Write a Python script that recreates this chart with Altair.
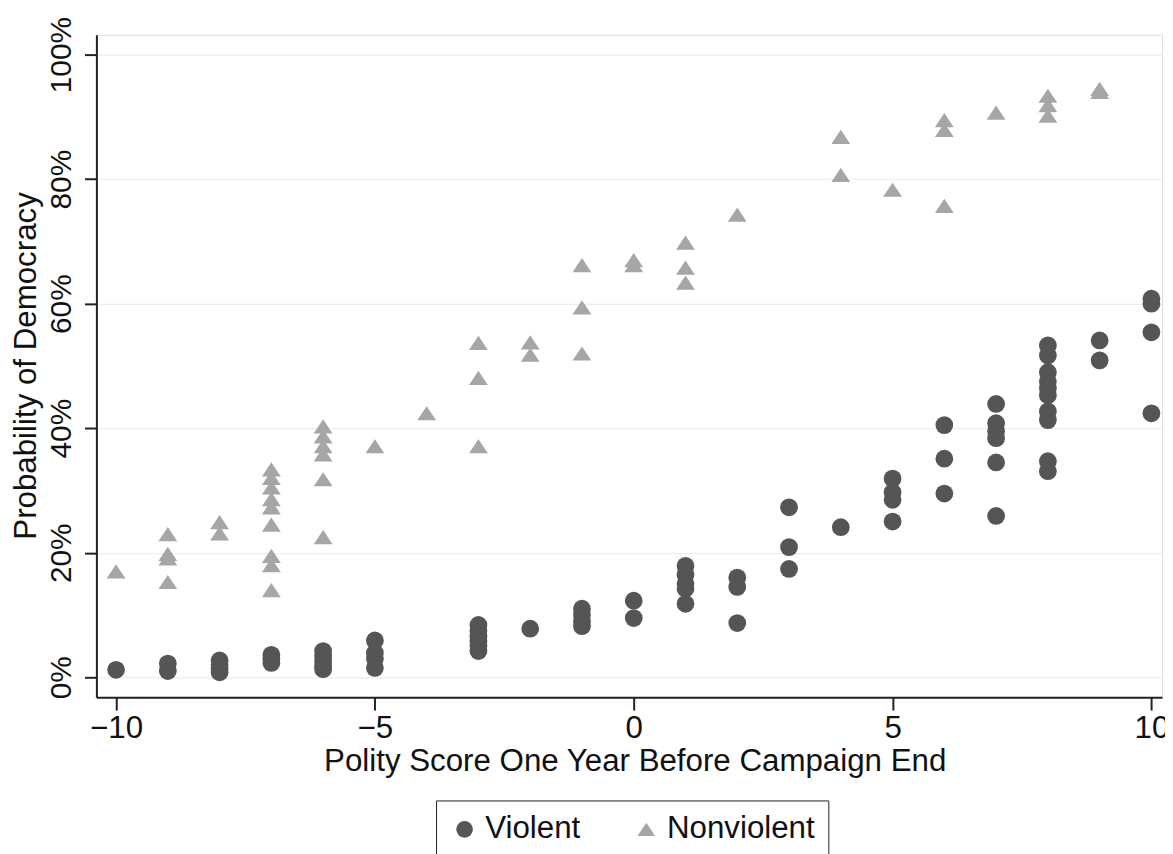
import altair as alt
import pandas as pd

# ---- data ----
violent_x = [-10,
             -9, -9,
             -8, -8, -8, -8,
             -7, -7, -7,
             -6, -6, -6, -6, -6,
             -5, -5, -5, -5,
             -3, -3, -3, -3, -3, -3,
             -2,
             -1, -1, -1, -1,
             0, 0,
             1, 1, 1, 1, 1,
             2, 2, 2,
             3, 3, 3,
             4,
             5, 5, 5, 5,
             6, 6, 6,
             7, 7, 7, 7, 7, 7,
             8, 8, 8, 8, 8, 8, 8, 8, 8, 8,
             9, 9,
             10, 10, 10, 10]
violent_y = [1.2,
             2.2, 1.0,
             2.7, 2.0, 1.4, 0.8,
             3.6, 3.0, 2.3,
             4.2, 3.4, 2.6, 1.9, 1.3,
             5.9, 3.9, 3.0, 1.5,
             8.4, 7.5, 6.6, 5.8, 5.0, 4.2,
             7.8,
             11.0, 10.0, 9.0, 8.2,
             12.3, 9.5,
             17.9, 16.5, 15.0, 14.2, 11.8,
             16.0, 14.5, 8.7,
             27.3, 20.9, 17.4,
             24.1,
             31.9, 29.7, 28.5, 25.0,
             40.5, 35.1, 29.5,
             43.9, 40.8, 39.5, 38.4, 34.5, 25.9,
             53.3, 51.7, 49.0, 47.5, 46.4, 45.3, 42.7, 41.3, 34.7, 33.1,
             54.1, 50.9,
             60.8, 60.0, 55.4, 42.4]

nonviolent_x = [-10,
                -9, -9, -9, -9,
                -8, -8,
                -7, -7, -7, -7, -7, -7, -7, -7, -7,
                -6, -6, -6, -6, -6, -6,
                -5,
                -4,
                -3, -3, -3,
                -2, -2,
                -1, -1, -1,
                0, 0,
                1, 1, 1,
                2,
                4, 4,
                5,
                6, 6, 6,
                7,
                8, 8, 8,
                9, 9]
nonviolent_y = [17.0,
                23.0, 19.8, 19.1, 15.3,
                24.9, 23.1,
                33.4, 32.0, 30.5, 28.6, 27.3, 24.5, 19.5, 18.0, 14.0,
                40.3, 38.7, 37.1, 35.8, 31.8, 22.5,
                37.1,
                42.4,
                53.7, 48.1, 37.1,
                53.8, 51.8,
                66.2, 59.4, 52.0,
                67.0, 66.2,
                69.8, 65.8, 63.4,
                74.3,
                86.8, 80.7,
                78.3,
                89.5, 87.9, 75.7,
                90.7,
                93.4, 91.9, 90.2,
                94.5, 94.0]

groups = ["Violent", "Nonviolent"]
group_colors = ["#555555", "#a6a6a6"]
x_ticks = [-10, -5, 0, 5, 10]
y_ticks = [0, 20, 40, 60, 80, 100]

df = pd.DataFrame({
    "polity": violent_x + nonviolent_x,
    "prob": violent_y + nonviolent_y,
    "type": [groups[0]] * len(violent_x) + [groups[1]] * len(nonviolent_x),
})

TRI = "M0,-0.8L1.06,0.8L-1.06,0.8Z"
FONT = "Liberation Sans"

legend = alt.Legend(
    title=None, orient="none", legendX=342, legendY=771, direction="horizontal",
    strokeColor="#222222", padding=13, labelFontSize=31.5, labelFont=FONT,
    labelColor="#111111", symbolSize=280, labelOffset=5, columnPadding=50,
    symbolOpacity=1, cornerRadius=0, fillColor="white",
)

chart = alt.Chart(df).mark_point(filled=True, opacity=1, size=320).encode(
    x=alt.X(
        "polity:Q",
        scale=alt.Scale(domain=[-10.38, 10.205], nice=False, zero=False),
        axis=alt.Axis(
            values=x_ticks, title="Polity Score One Year Before Campaign End",
            grid=False, tickSize=13, tickWidth=2, tickColor="#222222",
            domainColor="#222222", domainWidth=2,
            labelPadding=28, labelBaseline="alphabetic", labelFontSize=31.5,
            labelFont=FONT, labelColor="#111111",
            titleFontSize=31.5, titleFont=FONT, titleFontWeight="normal",
            titleColor="#111111", titleBaseline="alphabetic", titleY=74, titleX=542,
            titleAlign="center",
        ),
    ),
    y=alt.Y(
        "prob:Q",
        scale=alt.Scale(domain=[-3.2, 103.2], nice=False, zero=False),
        axis=alt.Axis(
            values=y_ticks, labelExpr="datum.value + '%'",
            grid=True, gridColor="#e6eef1", gridWidth=1.2,
            tickSize=12, tickWidth=2, tickColor="#222222",
            domainColor="#222222", domainWidth=2,
            labelAngle=270, labelAlign="center", labelBaseline="alphabetic",
            labelPadding=14, labelFontSize=30, labelFont=FONT, labelColor="#111111",
            title="Probability of Democracy", titleFontSize=31.5, titleFont=FONT,
            titleFontWeight="normal", titleColor="#111111", titleAngle=270,
            titleBaseline="alphabetic", titleAlign="center", titleX=-61, titleY=333,
        ),
    ),
    color=alt.Color("type:N", scale=alt.Scale(domain=groups, range=group_colors), legend=legend),
    shape=alt.Shape("type:N", scale=alt.Scale(domain=groups, range=["circle", TRI]), legend=legend),
).properties(
    width=1073,
    height=667,
    padding={"left": 89, "top": 24, "right": 3, "bottom": 155},
    autosize=alt.AutoSizeParams(type="none"),
    background="white",
).configure_view(stroke=None).configure(font=FONT)

chart.save("out.html", embed_options={"renderer": "svg", "actions": False})
